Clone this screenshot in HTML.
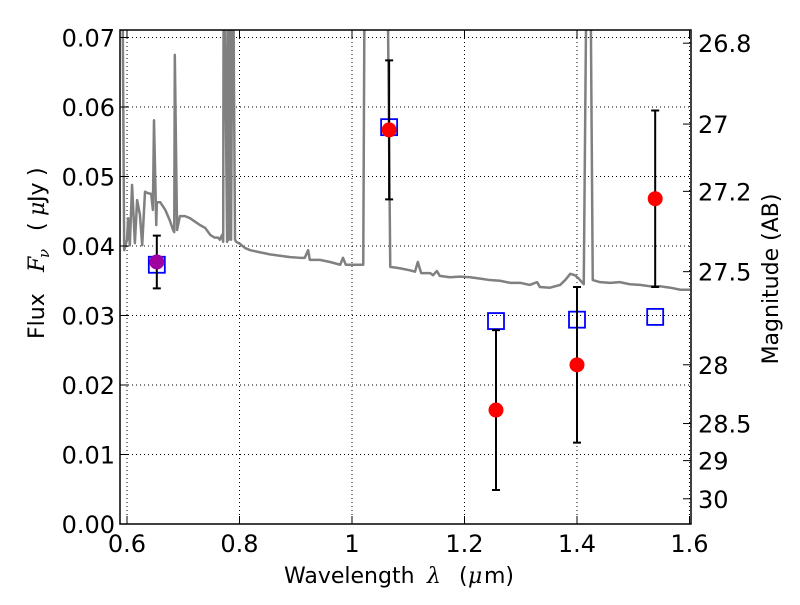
<!DOCTYPE html>
<html><head><meta charset="utf-8"><style>
body{margin:0;background:#fff;}
svg text{font-family:"DejaVu Sans","Liberation Sans",sans-serif;font-size:24px;fill:#000;white-space:pre;}
svg .t{font-size:22px;}
svg .m{font-family:"DejaVu Serif","Liberation Serif",serif;font-style:italic;}
</style></head><body>
<svg id="chart" width="800" height="600" xmlns="http://www.w3.org/2000/svg">
<defs><clipPath id="clip"><rect x="120" y="30" width="571" height="494"/></clipPath></defs>
<g id="grid"></g>
<g id="spec" clip-path="url(#clip)"></g>
<g id="marks"></g>
<rect x="120" y="30" width="571" height="494" fill="none" stroke="#000" stroke-width="1.5"/>
<g id="axes"></g>
<text class="t" y="583"><tspan x="284">Wavelength</tspan><tspan class="m" x="427">λ</tspan><tspan x="459">(</tspan><tspan class="m" x="468">μ</tspan><tspan x="484">m)</tspan></text>
<text class="t" transform="translate(44,339) rotate(-90)"><tspan x="0">Flux</tspan><tspan class="m" x="67">F</tspan><tspan class="m" font-size="15" x="81" dy="5">ν</tspan><tspan x="108" dy="-5">(</tspan><tspan class="m" x="123">μ</tspan><tspan x="137">Jy</tspan><tspan x="163">)</tspan></text>
<text class="t" transform="translate(778,279) rotate(-90)" text-anchor="middle">Magnitude (AB)</text>
</svg>
<script>
const specLam=[0.591,0.595,0.600,0.602,0.605,0.609,0.614,0.618,0.623,0.627,0.632,0.637,0.643,0.646,0.648,0.652,0.653,0.659,0.668,0.676,0.682,0.684,0.685,0.689,0.694,0.703,0.712,0.721,0.730,0.739,0.748,0.756,0.762,0.765,0.769,0.771,0.772,0.778,0.780,0.781,0.783,0.785,0.788,0.792,0.794,0.801,0.810,0.819,0.836,0.854,0.872,0.890,0.908,0.916,0.922,0.925,0.943,0.961,0.979,0.984,0.989,1.014,1.020,1.023,1.062,1.068,1.085,1.103,1.112,1.117,1.123,1.139,1.144,1.151,1.156,1.174,1.192,1.210,1.228,1.245,1.263,1.281,1.299,1.316,1.329,1.334,1.352,1.370,1.379,1.388,1.396,1.402,1.412,1.418,1.423,1.428,1.441,1.459,1.476,1.494,1.512,1.530,1.548,1.566,1.584,1.601];
const specFlux=[0.09,0.0394,0.0409,0.0440,0.0401,0.0488,0.0404,0.0466,0.0445,0.0401,0.0478,0.0476,0.0475,0.0452,0.0581,0.0430,0.0463,0.0463,0.0452,0.0437,0.0423,0.0420,0.0675,0.0423,0.0443,0.0443,0.0440,0.0435,0.0430,0.0426,0.0416,0.0412,0.0412,0.0409,0.0416,0.0406,0.09,0.0406,0.09,0.0409,0.09,0.0409,0.09,0.0409,0.0406,0.0403,0.0397,0.0394,0.0391,0.0388,0.0386,0.0384,0.0383,0.0383,0.0394,0.0380,0.0380,0.0377,0.0373,0.0383,0.0373,0.0373,0.0373,0.09,0.09,0.0370,0.0368,0.0365,0.0363,0.0377,0.0361,0.0361,0.0358,0.0364,0.0357,0.0355,0.0356,0.0355,0.0353,0.0351,0.0350,0.0347,0.0347,0.0344,0.0348,0.0341,0.0340,0.0344,0.0351,0.0360,0.0358,0.0354,0.0345,0.09,0.09,0.0351,0.0348,0.0347,0.0348,0.0345,0.0344,0.0342,0.0342,0.0340,0.0337,0.0337];
const obsLam=[0.653,1.066,1.256,1.400,1.539];
const obsFlux=[0.0377,0.0567,0.0164,0.0229,0.0468];
const obsErr=[0.0038,0.0100,0.0115,0.0112,0.0127];
const modelFlux=[0.0373,0.0571,0.0292,0.0294,0.0298];
const xTicks=[0.6,0.8,1.0,1.2,1.4,1.6];
const xTickLabels=["0.6","0.8","1","1.2","1.4","1.6"];
const yTicks=[0,0.01,0.02,0.03,0.04,0.05,0.06,0.07];
const yTickLabels=["0.00","0.01","0.02","0.03","0.04","0.05","0.06","0.07"];
const magTicks=[26.8,27,27.2,27.5,28,28.5,29,30];
const magTickLabels=["26.8","27","27.2","27.5","28","28.5","29","30"];

const NS="http://www.w3.org/2000/svg";
const X=l=>127+(l-0.6)*562.5;
const Y=f=>524-f*6950;
const magToFlux=m=>Math.pow(10,(23.9-m)/2.5);
function mk(tag,attrs,parent){const e=document.createElementNS(NS,tag);for(const k in attrs)e.setAttribute(k,attrs[k]);parent.appendChild(e);return e;}
const grid=document.getElementById('grid'),axes=document.getElementById('axes');
xTicks.forEach((t,i)=>{
  const x=X(t);
  const g=mk('line',{x1:x,x2:x,y1:30,y2:524,stroke:'#000','stroke-dasharray':'1,3','stroke-width':1},grid);
  
  
  mk('line',{x1:x,x2:x,y1:524,y2:516,stroke:'#000'},axes);
  mk('line',{x1:x,x2:x,y1:30,y2:38,stroke:'#000'},axes);
  const tx=mk('text',{x:x,y:552,'text-anchor':'middle'},axes);tx.textContent=xTickLabels[i];
  
  
});
yTicks.forEach((t,i)=>{
  const y=Y(t);
  const g=mk('line',{x1:120,x2:691,y1:y,y2:y,stroke:'#000','stroke-dasharray':'1,3','stroke-width':1},grid);
  
  
  mk('line',{x1:120,x2:128,y1:y,y2:y,stroke:'#000'},axes);
  const tx=mk('text',{x:115,y:y+9,'text-anchor':'end'},axes);tx.textContent=yTickLabels[i];
  
  
});
magTicks.forEach((m,i)=>{
  const y=Y(magToFlux(m));
  mk('line',{x1:683,x2:691,y1:y,y2:y,stroke:'#000'},axes);
  const tx=mk('text',{x:698,y:y+9,'text-anchor':'start'},axes);tx.textContent=magTickLabels[i];
  
  
});
const spec=document.getElementById('spec');
const p=mk('polyline',{points:specLam.map((l,i)=>X(l)+','+Y(specFlux[i])).join(' '),fill:'none',stroke:'#808080','stroke-width':2.5,'stroke-linejoin':'round'},spec);


const marks=document.getElementById('marks');
obsLam.forEach((l,i)=>{
  const x=X(l),y=Y(obsFlux[i]),y1=Y(obsFlux[i]+obsErr[i]),y2=Y(obsFlux[i]-obsErr[i]);
  const sq=mk('rect',{x:x-8,y:Y(modelFlux[i])-8,width:16,height:16,fill:'none',stroke:'#0000ff','stroke-width':1.8},marks);
  
  
  const eb=mk('path',{d:`M${x},${y1}V${y2}M${x-4},${y1}H${x+4}M${x-4},${y2}H${x+4}`,stroke:'#000','stroke-width':2,fill:'none'},marks);
  
  
  const c=mk('circle',{cx:x,cy:y,r:7.5,fill:i===0?'#a000a0':'#ff0000'},marks);
  
  
});
</script>
</body></html>
